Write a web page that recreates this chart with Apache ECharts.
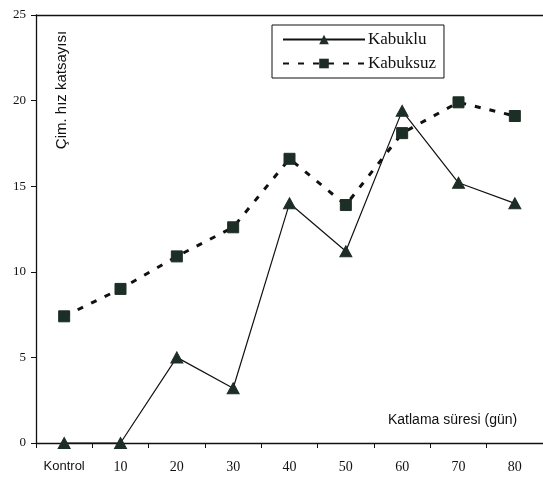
<!DOCTYPE html>
<html>
<head>
<meta charset="utf-8">
<script src="https://cdn.jsdelivr.net/npm/echarts@6/dist/echarts.min.js"></script>
<style>
html,body{margin:0;padding:0;background:#fff;}
#c{width:543px;height:484px;}
</style>
</head>
<body>
<div id="c"></div>
<script>
var categories = ['Kontrol', '10', '20', '30', '40', '50', '60', '70', '80'];
var kabuklu = [0, 0, 5.0, 3.2, 14.0, 11.2, 19.4, 15.2, 14.0];
var kabuksuz = [7.4, 9.0, 10.9, 12.6, 16.6, 13.9, 18.1, 19.9, 19.1];
var yTicks = [0, 5, 10, 15, 20, 25];

var chart = echarts.init(document.getElementById('c'));
var dark = '#1d2e26';
chart.setOption({
  animation: false,
  backgroundColor: '#ffffff',
  grid: {left: 36, right: 0, top: 15, bottom: 41, containLabel: false},
  legend: {
    orient: 'vertical',
    left: 272, top: 25,
    padding: [6, 8, 6, 10],
    itemGap: 7,
    itemWidth: 82, itemHeight: 12,
    borderColor: '#111', borderWidth: 1,
    textStyle: {fontFamily: 'Liberation Serif', fontSize: 17, color: '#111', padding: [0,0,0,-2]},
    data: ['Kabuklu', 'Kabuksuz']
  },
  xAxis: [{
    type: 'category', data: categories, boundaryGap: true,
    axisLine: {lineStyle: {color: '#111', width: 1.3}},
    axisTick: {show: true, length: 5, interval: 0, lineStyle: {color: '#111'}},
    axisLabel: {
      interval: 0,
      margin: 17, color: '#111', fontFamily: 'Liberation Serif', fontSize: 14,
      formatter: function (v) { return v === 'Kontrol' ? '{k|' + v + '}' : v; },
      rich: {k: {fontFamily: 'Liberation Sans', fontSize: 13, color: '#111'}}
    }
  }, {
    type: 'category', data: categories, position: 'top',
    axisLine: {lineStyle: {color: '#111', width: 1.3}},
    axisTick: {show: false}, axisLabel: {show: false}
  }],
  yAxis: {
    type: 'value', min: yTicks[0], max: yTicks[yTicks.length - 1], interval: 5,
    axisLine: {show: true, lineStyle: {color: '#111', width: 1.3}},
    axisTick: {show: true, length: 5, lineStyle: {color: '#111'}},
    splitLine: {show: false},
    axisLabel: {margin: 10, color: '#111', fontFamily: 'Liberation Serif', fontSize: 13}
  },
  graphic: [
    {type: 'text', x: 62, y: 90, rotation: Math.PI / 2,
     style: {text: 'Çim. hız katsayısı', fontFamily: 'Liberation Sans', fontSize: 15, fill: '#111',
             align: 'center', verticalAlign: 'middle'}},
    {type: 'text', left: 388, top: 413,
     style: {text: 'Katlama süresi (gün)', fontFamily: 'Liberation Sans', fontSize: 14, fill: '#111'}}
  ],
  series: [{
    name: 'Kabuklu', type: 'line', data: kabuklu,
    symbol: 'triangle', symbolSize: [12, 11],
    itemStyle: {color: dark, borderColor: dark},
    lineStyle: {color: '#111', width: 1.2, type: 'solid'}
  }, {
    name: 'Kabuksuz', type: 'line', data: kabuksuz,
    symbol: 'rect', symbolSize: 11,
    itemStyle: {color: dark, borderColor: dark},
    lineStyle: {color: '#111', width: 3, type: [6, 9]}
  }]
});
</script>
</body>
</html>
